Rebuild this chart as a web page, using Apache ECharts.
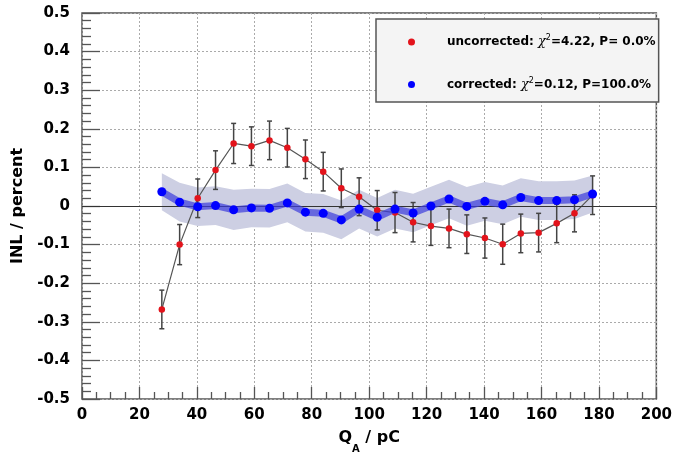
<!DOCTYPE html>
<html>
<head>
<meta charset="utf-8">
<script src="https://cdn.jsdelivr.net/npm/echarts@6/dist/echarts.min.js"></script>
<style>html,body{margin:0;padding:0;background:#fff}#c{width:675px;height:459px}</style>
</head>
<body>
<div id="c"></div>
<script>
// ---- data ----
var qValues = [27.8, 34.0, 40.3, 46.5, 52.8, 59.0, 65.3, 71.5, 77.8, 84.0, 90.3, 96.5, 102.8,
               109.0, 115.3, 121.5, 127.8, 134.0, 140.3, 146.5, 152.8, 159.0, 165.3, 171.5, 177.8];
var uncorrected = [-0.268, -0.100, 0.020, 0.093, 0.162, 0.155, 0.170, 0.151, 0.121, 0.089, 0.046, 0.024, -0.011,
                   -0.017, -0.042, -0.052, -0.058, -0.073, -0.083, -0.099, -0.071, -0.069, -0.045, -0.019, 0.028];
var uncorrectedErr = [0.050, 0.052, 0.050, 0.050, 0.052, 0.050, 0.050, 0.050, 0.050, 0.050, 0.050, 0.049, 0.051,
                      0.052, 0.051, 0.050, 0.050, 0.050, 0.052, 0.052, 0.050, 0.050, 0.050, 0.048, 0.050];
var corrected = [0.037, 0.010, -0.002, 0.001, -0.010, -0.005, -0.006, 0.008, -0.016, -0.019, -0.036, -0.008, -0.029,
                 -0.008, -0.018, 0.000, 0.018, -0.001, 0.012, 0.003, 0.022, 0.014, 0.014, 0.016, 0.031];
var correctedBand = [0.048, 0.050, 0.050, 0.050, 0.052, 0.050, 0.050, 0.050, 0.050, 0.050, 0.050, 0.050, 0.050,
                     0.050, 0.050, 0.050, 0.050, 0.050, 0.050, 0.050, 0.050, 0.050, 0.050, 0.050, 0.048];
var xTicks = [0, 20, 40, 60, 80, 100, 120, 140, 160, 180, 200];
var yTicks = ['-0.5', '-0.4', '-0.3', '-0.2', '-0.1', '0', '0.1', '0.2', '0.3', '0.4', '0.5'];
var legendTexts = {
  uncorrected: ['uncorrected: ', '4.22, P= 0.0%'],
  corrected: ['corrected: ', '0.12, P=100.0%']
};

// ---- chart ----
var chart = echarts.init(document.getElementById('c'), null, {renderer: 'canvas'});
var FONT = 'DejaVu Sans';
var redData = qValues.map(function (x, i) { return [x, uncorrected[i]]; });
var errData = qValues.map(function (x, i) { return [x, uncorrected[i] - uncorrectedErr[i], uncorrected[i] + uncorrectedErr[i]]; });
var blueData = qValues.map(function (x, i) { return [x, corrected[i]]; });
var bandData = qValues.map(function (x, i) { return [x, corrected[i] - correctedBand[i], corrected[i] + correctedBand[i]]; });

var option = {
  animation: false,
  backgroundColor: '#ffffff',
  grid: {left: 82, right: 18, top: 13, bottom: 53, show: true, borderColor: '#555', borderWidth: 1.5, backgroundColor: 'transparent'},
  xAxis: {
    type: 'value', min: 0, max: 200, interval: 20,
    name: '{q|Q}{s|A}{q| / pC}', nameLocation: 'middle', nameGap: 31,
    nameTextStyle: {rich: {
      q: {fontFamily: FONT, fontWeight: 'bold', fontSize: 16, color: '#000'},
      s: {fontFamily: FONT, fontWeight: 'bold', fontSize: 10, color: '#000', verticalAlign: 'bottom', padding: [0, 0, -8, 0]}
    }},
    axisLine: {show: false, onZero: false},
    axisTick: {show: true, inside: true, length: 12, lineStyle: {color: '#555', width: 1.3}},
    minorTick: {show: true, splitNumber: 4, length: 7, lineStyle: {color: '#555', width: 1.3}},
    axisLabel: {fontFamily: FONT, fontWeight: 'bold', fontSize: 15, color: '#000', margin: 9,
      formatter: function (v) { return xTicks.indexOf(v) >= 0 ? String(v) : ''; }},
    splitLine: {show: true, lineStyle: {color: '#aaa', type: [2, 2], width: 1}}
  },
  yAxis: {
    type: 'value', min: -0.5, max: 0.5, interval: 0.1,
    name: 'INL / percent', nameLocation: 'middle', nameGap: 52,
    nameTextStyle: {fontFamily: FONT, fontWeight: 'bold', fontSize: 16, color: '#000'},
    axisLine: {show: false, onZero: false},
    axisTick: {show: true, inside: true, length: 18, lineStyle: {color: '#555', width: 1.3}},
    minorTick: {show: true, splitNumber: 5, length: 9, lineStyle: {color: '#555', width: 1.3}},
    axisLabel: {fontFamily: FONT, fontWeight: 'bold', fontSize: 15, color: '#000', margin: 12,
      formatter: function (v) { var s = (Math.round(v * 10) / 10).toString(); return yTicks.indexOf(s) >= 0 ? s : ''; }},
    splitLine: {show: true, lineStyle: {color: '#aaa', type: [2, 2], width: 1}}
  },
  legend: {
    orient: 'vertical', left: 376, top: 19,
    backgroundColor: '#f4f4f4', borderColor: '#555', borderWidth: 1.5, borderRadius: 0,
    padding: [15, 3, 11, 32], itemGap: 28, itemWidth: 7, itemHeight: 7, icon: 'circle',
    data: ['uncorrected', 'corrected'],
    formatter: function (name) {
      var t = legendTexts[name];
      return '{b|' + t[0] + '}{c|χ}{s|2}{b|=' + t[1] + '}';
    },
    textStyle: {padding: [0, 0, 0, 27], rich: {
      b: {fontFamily: FONT, fontWeight: 'bold', fontSize: 12, color: '#000', lineHeight: 16},
      c: {fontFamily: 'DejaVu Serif', fontStyle: 'italic', fontSize: 13, color: '#000', lineHeight: 16},
      s: {fontFamily: FONT, fontSize: 8, color: '#000', verticalAlign: 'top', lineHeight: 16}
    }}
  },
  series: [
    {
      name: 'band', type: 'custom', z: 1, silent: true,
      data: bandData,
      encode: {x: 0, y: [1, 2]},
      renderItem: function (params, api) {
        if (params.dataIndex !== 0) return null;
        var top = [], bot = [];
        for (var i = 0; i < bandData.length; i++) {
          top.push(api.coord([bandData[i][0], bandData[i][2]]));
          bot.unshift(api.coord([bandData[i][0], bandData[i][1]]));
        }
        return {type: 'polygon', shape: {points: top.concat(bot)}, style: {fill: '#cdcfe3', stroke: null}};
      }
    },
    {
      name: 'zero', type: 'line', data: [], z: 2, silent: true,
      markLine: {silent: true, symbol: 'none', label: {show: false},
        lineStyle: {color: '#333', type: 'solid', width: 1.2}, data: [{yAxis: 0}]}
    },
    {
      name: 'uncorrectedErr', type: 'custom', z: 3, silent: true,
      data: errData,
      encode: {x: 0, y: [1, 2]},
      renderItem: function (params, api) {
        var x = api.value(0);
        var lo = api.coord([x, api.value(1)]);
        var hi = api.coord([x, api.value(2)]);
        var w = 2.5;
        var st = {stroke: '#444', lineWidth: 1.5};
        return {type: 'group', children: [
          {type: 'line', shape: {x1: lo[0], y1: lo[1], x2: hi[0], y2: hi[1]}, style: st},
          {type: 'line', shape: {x1: lo[0] - w, y1: lo[1], x2: lo[0] + w, y2: lo[1]}, style: st},
          {type: 'line', shape: {x1: hi[0] - w, y1: hi[1], x2: hi[0] + w, y2: hi[1]}, style: st}
        ]};
      }
    },
    {
      name: 'uncorrected', type: 'line', z: 4, data: redData,
      symbol: 'circle', symbolSize: 6.5, showAllSymbol: true,
      itemStyle: {color: '#e3131b'},
      lineStyle: {color: '#555', width: 1.2}
    },
    {
      name: 'corrected', type: 'line', z: 5, data: blueData,
      symbol: 'circle', symbolSize: 9, showAllSymbol: true,
      itemStyle: {color: '#0000ff'},
      lineStyle: {color: 'rgba(60,60,220,0.7)', width: 7}
    }
  ]
};
chart.setOption(option);
</script>
</body>
</html>
